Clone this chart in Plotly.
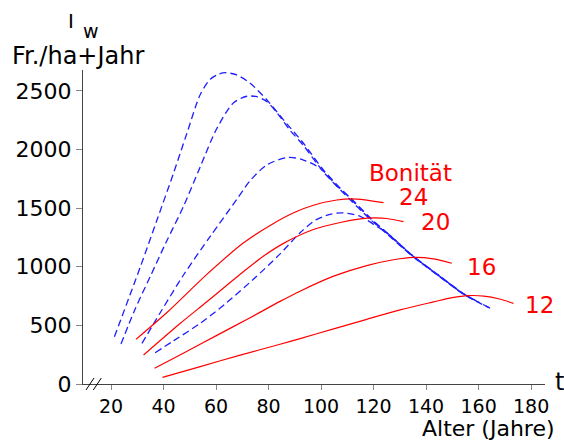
import plotly.graph_objects as go

# ---------------- data ----------------
x_ticks = [20, 40, 60, 80, 100, 120, 140, 160, 180]
y_ticks = [0, 500, 1000, 1500, 2000, 2500]

# blue dashed curves
blue_a_x = [21.3, 31.2, 37.5, 43.8, 48.9, 54.0, 57.8, 61.0, 63.5, 67.9, 73.0, 79.4, 85.7,
            93.3, 100.9, 111.1, 118.7, 125.1, 135.2, 145.3, 154.2, 158.0]
blue_a_y = [404, 1001, 1399, 1798, 2139, 2470, 2600, 2643, 2656, 2637, 2566, 2423, 2253,
            2054, 1826, 1584, 1414, 1286, 1086, 916, 768, 720]

blue_b_x = [23.8, 29.0, 34.9, 41.0, 47.7, 54.0, 60.3, 66.7, 71.8, 75.6, 79.4, 84.4,
            88.0, 93.3, 100.9, 111.1, 118.7, 125.1, 135.2, 145.3, 154.2, 164.4]
blue_b_y = [341, 630, 915, 1210, 1520, 1854, 2180, 2400, 2455, 2451, 2409, 2280,
            2170, 2035, 1810, 1572, 1405, 1280, 1083, 914, 767, 646]

blue_c_x = [31.8, 38.8, 47.6, 57.8, 67.9, 73.0, 79.4, 87.6, 93.3, 99.7, 106.0,
            111.1, 118.7, 125.1, 135.2, 145.3, 154.2, 160.0]
blue_c_y = [347, 610, 930, 1260, 1575, 1735, 1870, 1934, 1911, 1840, 1690,
            1590, 1418, 1290, 1090, 920, 772, 700]

blue_d_x = [36.8, 43.9, 54.0, 64.1, 74.3, 84.4, 92.0, 98.0, 103.5, 108.5, 114.9,
            121.2, 125.1, 135.2, 145.3, 154.2, 164.4]
blue_d_y = [267, 370, 518, 695, 895, 1110, 1290, 1400, 1448, 1460, 1430,
            1345, 1290, 1088, 918, 770, 648]

# red solid curves (Bonität 24, 20, 16, 12)
red24_x = [29.5, 41.3, 56.5, 70.5, 81.9, 90.0, 97.1, 106.0, 113.6, 123.8]
red24_y = [381, 610, 935, 1205, 1370, 1465, 1525, 1570, 1578, 1547]

red20_x = [32.4, 46.4, 56.5, 70.5, 78.0, 85.7, 97.1, 107.3, 114.9, 120.0, 125.0, 131.4]
red20_y = [247, 518, 702, 960, 1090, 1200, 1318, 1378, 1408, 1417, 1412, 1385]

red16_x = [36.6, 47.7, 60.3, 73.0, 84.4, 92.0, 104.8, 117.4, 127.6, 135.2, 142.8, 149.8]
red16_y = [134, 264, 415, 566, 705, 792, 920, 1010, 1060, 1080, 1068, 1030]

red12_x = [39.6, 54.0, 69.2, 84.4, 92.0, 104.8, 117.4, 130.1, 142.8, 150.0, 156.0,
           162.0, 168.0, 173.3]
red12_y = [57, 148, 247, 339, 387, 470, 552, 632, 700, 737, 754, 750, 725, 688]

bonitaet_labels = ["24", "20", "16", "12"]

# ---------------- figure ----------------
W, H = 564, 442
L, R, T, B = 83, 19, 70, 58
PW, PH = W - L - R, H - T - B


def P(px, py):
    """pixel -> paper coordinates"""
    return (px - L) / PW, (H - B - py) / PH


BLUE = "rgb(30,30,255)"
RED = "rgb(255,0,0)"

fig = go.Figure()
for xs, ys in [(blue_a_x, blue_a_y), (blue_b_x, blue_b_y),
               (blue_c_x, blue_c_y), (blue_d_x, blue_d_y)]:
    fig.add_trace(go.Scatter(x=xs, y=ys, mode="lines",
                             line=dict(color=BLUE, width=1.3, dash="7px,4px",
                                       shape="spline", smoothing=0.8),
                             hoverinfo="skip", showlegend=False))
for xs, ys in [(red24_x, red24_y), (red20_x, red20_y),
               (red16_x, red16_y), (red12_x, red12_y)]:
    fig.add_trace(go.Scatter(x=xs, y=ys, mode="lines",
                             line=dict(color=RED, width=1.2,
                                       shape="spline", smoothing=0.8),
                             hoverinfo="skip", showlegend=False))

FONT = "DejaVu Sans"
annotations = []


def add_text(text, px, py, size, color="black", xanchor="center", yanchor="middle"):
    ax, ay = P(px, py)
    annotations.append(dict(text=text, x=ax, y=ay, xref="paper", yref="paper",
                            xanchor=xanchor, yanchor=yanchor, showarrow=False,
                            borderpad=0,
                            font=dict(family=FONT, size=size, color=color)))


add_text("I", 70.5, 21, 20)
add_text("w", 91, 31, 19)
add_text("Fr./ha+Jahr", 77.5, 56, 24)
add_text("Bonität", 410.5, 173, 23, RED)
label_pos = [(413, 197), (435, 222), (481, 267), (539.5, 305)]
for lab, (px, py) in zip(bonitaet_labels, label_pos):
    add_text(lab, px, py, 23, RED)
add_text("t", 559, 382, 24)
add_text("Alter (Jahre)", 556, 442, 22, xanchor="right", yanchor="bottom")

shapes = []
for x0p in (86.0, 93.3):
    a0 = P(x0p, 390)
    a1 = P(x0p + 8, 378)
    shapes.append(dict(type="line", xref="paper", yref="paper",
                       x0=a0[0], y0=a0[1], x1=a1[0], y1=a1[1],
                       line=dict(color="black", width=1)))

fig.update_layout(
    width=W, height=H,
    margin=dict(l=L, r=R, t=T, b=B, pad=0),
    paper_bgcolor="white", plot_bgcolor="white",
    annotations=annotations, shapes=shapes,
    xaxis=dict(range=[9.33, 185.3], tickvals=x_ticks, ticktext=[str(v) for v in x_ticks],
               showline=True, linecolor="#444", linewidth=1, ticks="outside",
               ticklen=5, tickcolor="#888", showgrid=False, zeroline=False,
               tickfont=dict(family=FONT, size=19, color="black")),
    yaxis=dict(range=[0, 2679], tickvals=y_ticks, ticktext=[str(v) for v in y_ticks],
               showline=True, linecolor="#444", linewidth=1, ticks="outside",
               ticklen=6, tickcolor="#888", showgrid=False, zeroline=False,
               tickfont=dict(family=FONT, size=22, color="black")),
)

fig.write_html("out.html")
